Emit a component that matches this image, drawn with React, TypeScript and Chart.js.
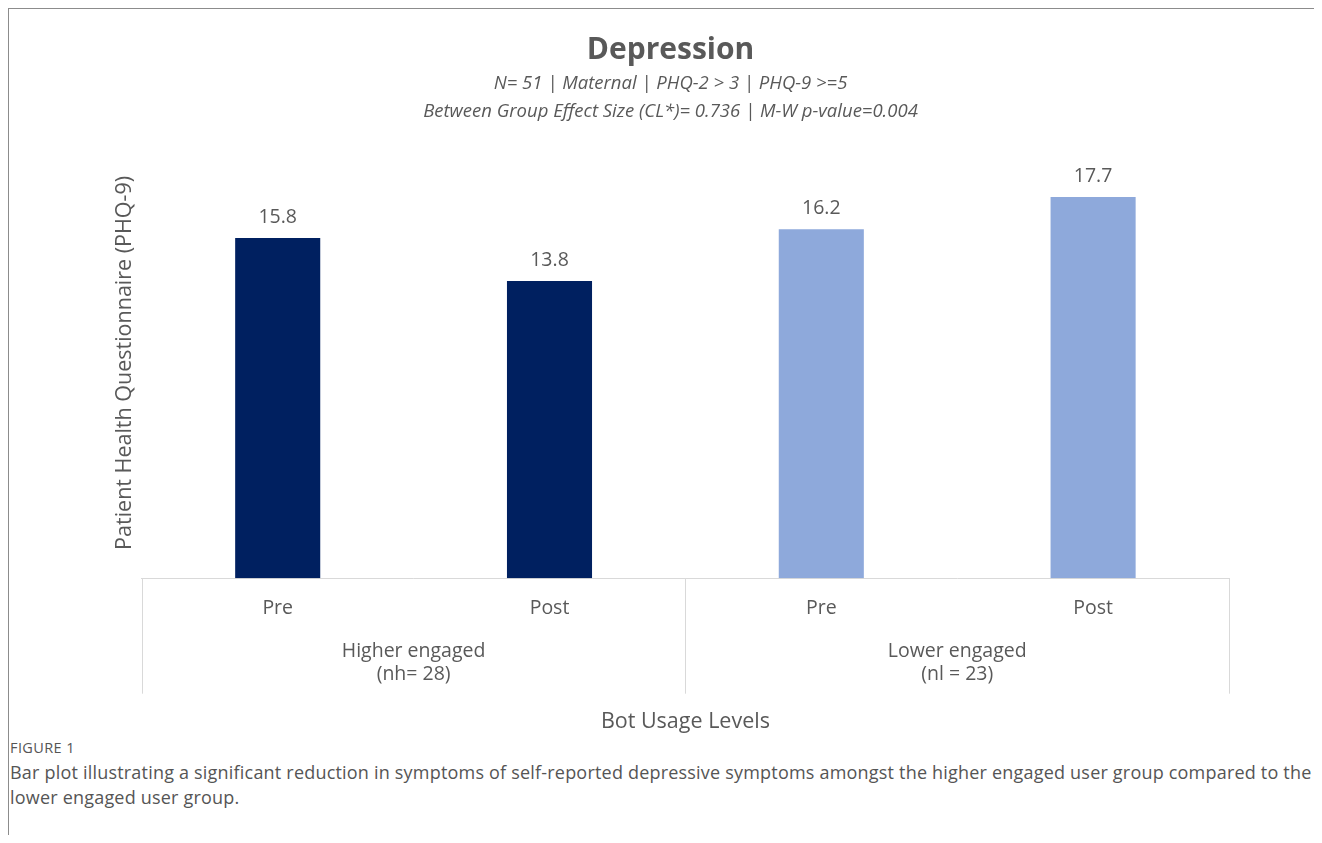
import React, { useEffect, useRef } from "react";
import { Chart, registerables } from "chart.js";

Chart.register(...registerables);

const categories = ["Pre", "Post", "Pre", "Post"];
const groupLabels = [
  ["Higher engaged", "(nh= 28)"],
  ["Lower engaged", "(nl = 23)"],
];
const values = [15.8, 13.8, 16.2, 17.7];
const barColors = ["#002060", "#002060", "#8EA9DB", "#8EA9DB"];
const titleText = "Depression";
const subtitleLines = [
  "N= 51 | Maternal | PHQ-2 > 3 | PHQ-9 >=5",
  "Between Group Effect Size (CL*)= 0.736 | M-W p-value=0.004",
];
const yTitle = "Patient Health Questionnaire (PHQ-9)";
const xTitle = "Bot Usage Levels";

const GRAY = "#595959";
const FONT = "'Open Sans', 'Noto Sans', sans-serif";
const NARROW = "'Liberation Sans Narrow', 'Open Sans', sans-serif";

const valueLabelPlugin = {
  id: "valueLabels",
  afterDatasetsDraw(chart: any) {
    const { ctx } = chart;
    const meta = chart.getDatasetMeta(0);
    ctx.save();
    ctx.font = `19.5px ${FONT}`;
    ctx.fillStyle = GRAY;
    ctx.textAlign = "center";
    ctx.textBaseline = "bottom";
    meta.data.forEach((bar: any, i: number) => {
      const v = chart.data.datasets[0].data[i];
      ctx.fillText(Number(v).toFixed(1), bar.x, bar.y - 11);
    });
    ctx.restore();
  },
};

const groupLinesPlugin = {
  id: "groupLines",
  afterDraw(chart: any) {
    const { ctx } = chart;
    const x2 = chart.scales.x2;
    const x = chart.scales.x;
    if (!x2 || !x) return;
    const t = x2.options.title;
    const titleH = t.font.size * 1.2 + t.padding.top + t.padding.bottom;
    const bottom = x2.bottom - titleH + 6;
    const n = groupLabels.length;
    ctx.save();
    ctx.strokeStyle = "#d9d9d9";
    ctx.lineWidth = 1;
    for (let i = 0; i <= n; i++) {
      const px = Math.round(x2.left + (i * (x2.right - x2.left)) / n) + 0.5;
      ctx.beginPath();
      ctx.moveTo(px, x.top);
      ctx.lineTo(px, bottom);
      ctx.stroke();
    }
    ctx.restore();
  },
};

export default function App() {
  const ref = useRef<HTMLCanvasElement>(null);
  useEffect(() => {
    if (!ref.current) return;
    const chart = new Chart(ref.current, {
      type: "bar",
      data: {
        labels: categories,
        datasets: [
          {
            data: values,
            backgroundColor: barColors,
            borderWidth: 0,
            categoryPercentage: 1,
            barPercentage: 0.313,
          },
        ],
      },
      options: {
        animation: false,
        responsive: true,
        maintainAspectRatio: false,
        layout: { padding: { left: 103, right: 85, top: 0, bottom: 0 } },
        plugins: {
          legend: { display: false },
          tooltip: { enabled: false },
          title: {
            display: true,
            text: titleText,
            color: GRAY,
            font: { family: NARROW, size: 30, weight: "bold" },
            padding: { top: 23, bottom: 2 },
          },
          subtitle: {
            display: true,
            text: subtitleLines,
            color: GRAY,
            font: { family: NARROW, size: 18.5, style: "italic", lineHeight: 1.5 },
            padding: { top: 0, bottom: 22 },
          },
        },
        scales: {
          y: {
            min: 0,
            max: 20,
            ticks: { display: false },
            grid: { display: false, drawTicks: false },
            border: { display: false },
            title: {
              display: true,
              text: yTitle,
              color: GRAY,
              font: { family: FONT, size: 21.5 },
              padding: { top: 0, bottom: 4 },
            },
          },
          x: {
            position: "bottom",
            grid: { display: true, drawOnChartArea: false, drawTicks: false, color: "#d9d9d9" },
            border: { display: true, color: "#d9d9d9" },
            ticks: { color: GRAY, font: { family: FONT, size: 19.5 }, padding: 18 },
          },
          x2: {
            type: "category",
            position: "bottom",
            labels: groupLabels as any,
            offset: true,
            grid: { display: false, drawTicks: false },
            border: { display: false },
            ticks: { color: GRAY, font: { family: FONT, size: 19.5, lineHeight: 1.18 }, padding: 2 },
            title: {
              display: true,
              text: xTitle,
              color: GRAY,
              font: { family: FONT, size: 21.5 },
              padding: { top: 21.5, bottom: 0 },
            },
          },
        },
      } as any,
      plugins: [valueLabelPlugin, groupLinesPlugin],
    });
    return () => chart.destroy();
  }, []);

  return (
    <div
      style={{
        borderTop: "1px solid #8c8c8c",
        borderLeft: "1px solid #8c8c8c",
        height: 835,
        marginBottom: -8,
        boxSizing: "border-box",
        background: "#fff",
        overflow: "hidden",
      }}
    >
      <div style={{ position: "relative", height: 726 }}>
        <canvas ref={ref} />
      </div>
      <div
        style={{
          fontFamily: FONT,
          color: "#555",
          paddingLeft: 1,
        }}
      >
        <div style={{ fontSize: 14.5, lineHeight: "16px", marginTop: 5, letterSpacing: 0.4 }}>FIGURE 1</div>
        <div style={{ fontSize: 18, lineHeight: "25px", marginTop: 4, letterSpacing: 0.2 }}>
          Bar plot illustrating a significant reduction in symptoms of self-reported depressive symptoms amongst the
          higher engaged user group compared to the lower engaged user group.
        </div>
      </div>
    </div>
  );
}
